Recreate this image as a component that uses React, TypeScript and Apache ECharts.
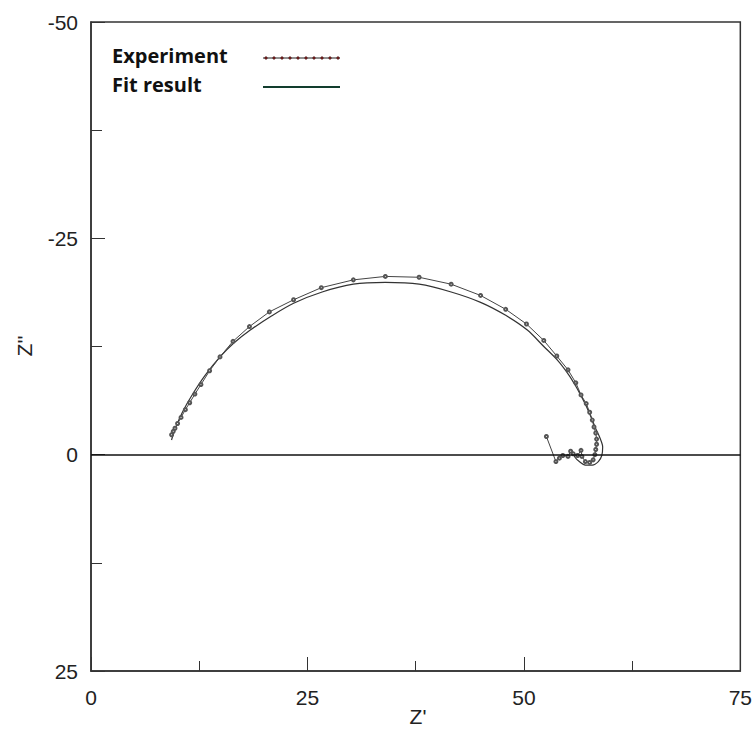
import React, { useEffect, useRef } from "react";
import * as echarts from "echarts";

const expZr = [
  9.31, 9.5, 9.7, 10.0, 10.4, 10.9, 11.4, 12.0, 12.7, 13.7, 14.9, 16.4, 18.3, 20.6, 23.4, 26.6,
  30.3, 34.0, 37.9, 41.6, 45.0, 47.9, 50.3, 52.3, 53.8, 55.1, 56.0, 56.6, 57.2, 57.6, 57.9, 58.1,
  58.3, 58.4, 58.4, 58.3, 58.2, 58.0, 57.6, 57.1, 56.7, 56.6, 56.2, 55.7, 55.4, 55.1, 54.5, 54.1,
  53.7, 52.6,
];
const expZi = [
  -2.3, -2.7, -3.05, -3.6, -4.3, -5.2, -6.0, -7.0, -8.1, -9.7, -11.3, -13.1, -14.8, -16.5, -17.9,
  -19.3, -20.2, -20.6, -20.5, -19.7, -18.4, -16.8, -15.1, -13.2, -11.4, -9.8, -8.3, -6.9, -5.9,
  -4.9, -4.0, -3.2, -2.5, -1.8, -1.2, -0.6, 0.0, 0.6, 0.9, 0.8, 0.2, -0.5, 0.1, -0.1, -0.4, 0.2,
  0.1, 0.4, 0.8, -2.1,
];

// Fitted curve (Z', Z'')
const fitZr = [
  9.3, 9.8, 10.6, 11.8, 13.2, 14.9, 16.5, 18.4, 20.8, 23.4, 26.7, 30.3, 34.0, 37.9, 41.6, 45.0,
  47.9, 50.4, 52.3, 53.9, 55.2, 56.0, 56.7, 57.3, 57.9, 58.3, 58.8, 59.1, 59.0, 58.6, 57.9, 57.1,
  56.4, 55.9, 55.7,
];
const fitZi = [
  -1.7, -3.2, -5.0, -7.1, -9.2, -11.3, -12.9, -14.4, -16.0, -17.5, -18.8, -19.7, -19.9, -19.7,
  -18.8, -17.6, -16.1, -14.4, -12.5, -10.9, -9.2, -7.9, -6.6, -5.4, -4.0, -3.0, -1.9, -0.9, 0.1,
  0.8, 1.2, 1.2, 0.8, 0.3, -0.2,
];

const xMin = 0;
const xMax = 75;
const yMin = -50;
const yMax = 25;
const tickStep = 25;
const legendNames = ["Experiment", "Fit result"];
const xTitle = "Z'";
const yTitle = "Z''";

export default function App() {
  const ref = useRef<HTMLDivElement>(null);

  useEffect(() => {
    document.body.style.margin = "0";
    if (!ref.current) return;
    const chart = echarts.init(ref.current, undefined, { renderer: "svg" });

    const expData = expZr.map((x, i) => [x, expZi[i]]);
    const fitData = fitZr.map((x, i) => [x, fitZi[i]]);

    const labelFont = "'Liberation Sans', Arial, sans-serif";
    const legendFont = "'Open Sans', sans-serif";

    const dots: any[] = [];
    for (let k = 0; k < 10; k++) {
      dots.push({
        type: "circle",
        shape: { cx: 266 + k * 8, cy: 58, r: 1.3 },
        style: { fill: "#7a2020", stroke: "#3a1010", lineWidth: 0.5 },
      });
    }

    chart.setOption({
      animation: false,
      backgroundColor: "#ffffff",
      grid: {
        left: 91,
        top: 22,
        width: 650,
        height: 649,
        show: true,
        borderColor: "#333",
        borderWidth: 1.5,
        backgroundColor: "transparent",
      },
      xAxis: {
        type: "value",
        min: xMin,
        max: xMax,
        interval: tickStep,
        axisLine: { show: true, onZero: false, lineStyle: { color: "#333", width: 1.5 } },
        axisTick: { show: true, inside: true, length: 14, lineStyle: { color: "#333", width: 1 } },
        minorTick: { show: true, splitNumber: 2, length: 10, lineStyle: { color: "#333", width: 1 } },
        splitLine: { show: false },
        axisLabel: {
          color: "#222",
          fontSize: 21,
          fontFamily: labelFont,
          margin: 16,
        },
      },
      yAxis: {
        type: "value",
        inverse: true,
        min: yMin,
        max: yMax,
        interval: tickStep,
        axisLine: { show: true, onZero: false, lineStyle: { color: "#333", width: 1.5 } },
        axisTick: { show: true, inside: true, length: 14, lineStyle: { color: "#333", width: 1 } },
        minorTick: { show: true, splitNumber: 2, length: 11, lineStyle: { color: "#333", width: 1 } },
        splitLine: { show: false },
        axisLabel: {
          color: "#222",
          fontSize: 21,
          fontFamily: labelFont,
          margin: 13,
        },
      },
      series: [
        {
          name: legendNames[1],
          type: "line",
          data: fitData,
          symbol: "none",
          smooth: 0.3,
          lineStyle: { color: "#333", width: 1.2 },
          z: 2,
          markLine: {
            silent: true,
            symbol: ["none", "none"],
            label: { show: false },
            lineStyle: { color: "#111", width: 1.5, type: "solid" },
            data: [{ yAxis: 0 }],
          },
        },
        {
          name: legendNames[0],
          type: "line",
          data: expData,
          symbol: "emptyCircle",
          symbolSize: 3,
          lineStyle: { color: "#444", width: 1 },
          itemStyle: { color: "#555", borderWidth: 1 },
          z: 3,
        },
      ],
      graphic: [
        {
          type: "text",
          left: 112,
          top: 45,
          style: {
            text: legendNames[0],
            font: `bold 20px ${legendFont}`,
            fill: "#111",
          },
        },
        {
          type: "text",
          left: 112,
          top: 74,
          style: {
            text: legendNames[1],
            font: `bold 20px ${legendFont}`,
            fill: "#111",
          },
        },
        {
          type: "line",
          shape: { x1: 263, y1: 58, x2: 340, y2: 58 },
          style: { stroke: "#222", lineWidth: 1 },
        },
        ...dots,
        {
          type: "line",
          shape: { x1: 263, y1: 87, x2: 340, y2: 87 },
          style: { stroke: "#123d2e", lineWidth: 2 },
        },
        {
          type: "text",
          x: 418,
          y: 716,
          style: {
            text: xTitle,
            font: `21px ${labelFont}`,
            fill: "#222",
            align: "center",
            verticalAlign: "middle",
          },
        },
        {
          type: "text",
          x: 24,
          y: 346,
          rotation: Math.PI / 2,
          style: {
            text: yTitle,
            font: `21px ${labelFont}`,
            fill: "#222",
            align: "center",
            verticalAlign: "middle",
          },
        },
      ],
    });

    return () => chart.dispose();
  }, []);

  return <div ref={ref} style={{ width: 755, height: 750 }} />;
}
